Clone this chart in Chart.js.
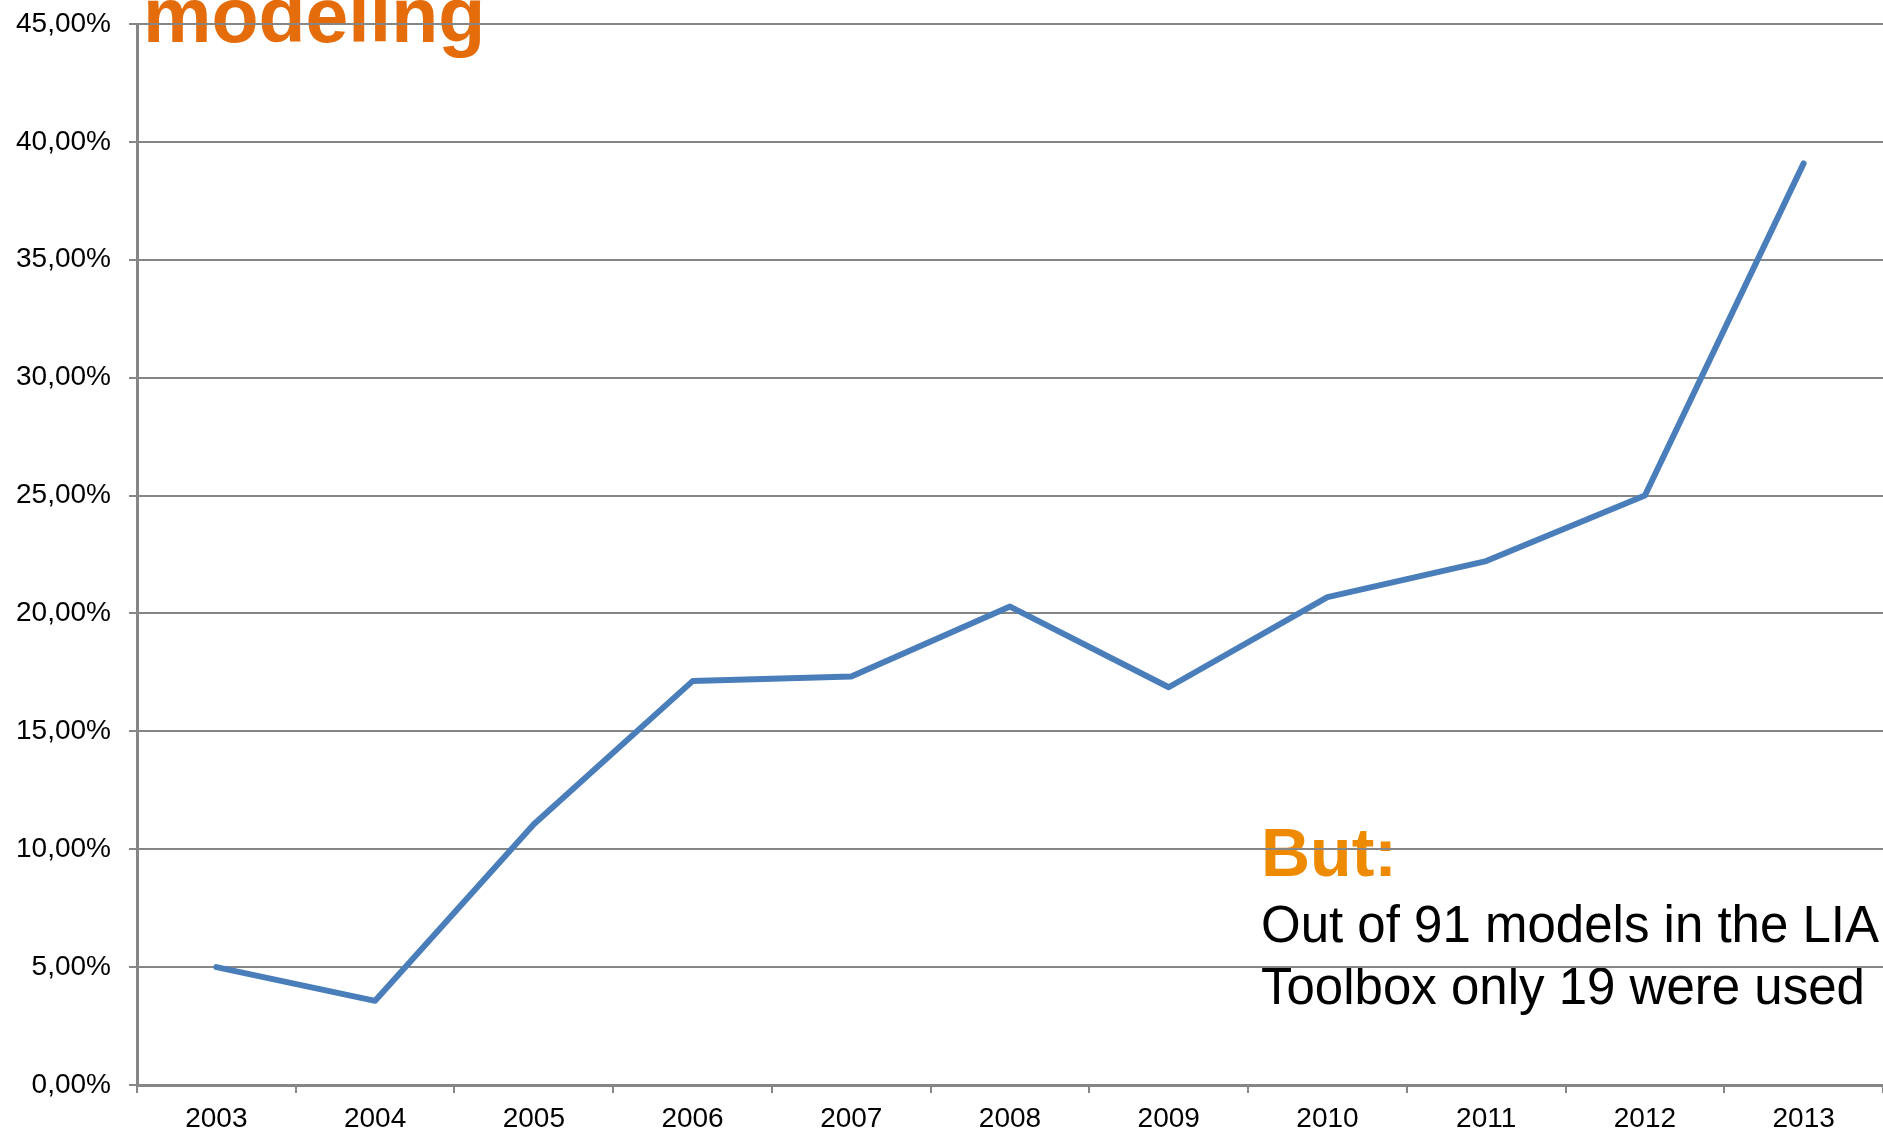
<!DOCTYPE html>
<html>
<head>
<meta charset="utf-8">
<script src="https://cdn.jsdelivr.net/npm/chart.js@4.4.1/dist/chart.umd.min.js"></script>
<style>
  html, body { margin: 0; padding: 0; background: #fff; }
  #wrap { width: 1883px; height: 1134px; position: relative; }
</style>
</head>
<body>
<div id="wrap"><canvas id="chart" width="1883" height="1134"></canvas></div>
<script>
// --- Dados ---
const years = ['2003', '2004', '2005', '2006', '2007', '2008', '2009', '2010', '2011', '2012', '2013'];
const shares = [5.0, 3.57, 11.06, 17.13, 17.33, 20.29, 16.87, 20.69, 22.22, 25.0, 39.09];
const yTicks = [0, 5, 10, 15, 20, 25, 30, 35, 40, 45];

const titleText = 'modeling';
const noteHead = 'But:';
const noteLines = ['Out of 91 models in the LIA', 'Toolbox only 19 were used'];

const FONT = '"Liberation Sans", Arial, sans-serif';
const GRID = '#868686';

// textos do slide desenhados por baixo das linhas de grade
const slideText = {
    id: 'slideText',
    beforeDraw(chart) {
        const ctx = chart.ctx;
        ctx.save();
        ctx.textBaseline = 'alphabetic';
        ctx.textAlign = 'left';

        ctx.fillStyle = '#E46C0A';
        ctx.font = 'bold 77px ' + FONT;
        ctx.fillText(titleText, 143, 42);

        ctx.fillStyle = '#EE8A00';
        ctx.font = 'bold 68px ' + FONT;
        ctx.fillText(noteHead, 1261, 876);

        ctx.fillStyle = '#000';
        ctx.font = '51px ' + FONT;
        noteLines.forEach((line, i) => ctx.fillText(line, 1261, 942 + i * 62));
        ctx.restore();
    }
};

new Chart(document.getElementById('chart'), {
    type: 'line',
    data: {
        labels: years,
        datasets: [{
            data: shares,
            borderColor: '#4A7EBB',
            borderWidth: 6,
            borderCapStyle: 'round',
            borderJoinStyle: 'round',
            pointRadius: 0,
            tension: 0,
            fill: false
        }]
    },
    options: {
        responsive: false,
        devicePixelRatio: 1,
        animation: false,
        layout: { padding: 0 },
        plugins: { legend: { display: false }, tooltip: { enabled: false } },
        scales: {
            x: {
                offset: true,
                grid: {
                    offset: true,
                    drawOnChartArea: false,
                    drawTicks: true,
                    tickLength: 8,
                    color: GRID,
                    lineWidth: 2
                },
                border: { display: true, color: GRID, width: 3 },
                ticks: {
                    color: '#000',
                    font: { family: FONT, size: 28 },
                    padding: 9,
                    maxRotation: 0,
                    autoSkip: false
                },
                afterFit(scale) {
                    scale.height = 49;
                    scale.paddingLeft = 0;
                    scale.paddingRight = 0;
                }
            },
            y: {
                min: 0,
                max: 45,
                afterBuildTicks(scale) {
                    scale.ticks = yTicks.map(v => ({ value: v }));
                },
                grid: {
                    color: GRID,
                    lineWidth: 2,
                    drawTicks: true,
                    tickLength: 8
                },
                border: { display: true, color: GRID, width: 3 },
                ticks: {
                    color: '#000',
                    font: { family: FONT, size: 28 },
                    padding: 18,
                    callback: v => v.toFixed(2).replace('.', ',') + '%'
                },
                afterFit(scale) {
                    // área do gráfico começa em 137px e o topo (45%) em 24px
                    scale.width = 137;
                    scale.paddingTop = 24;
                    scale.paddingBottom = 0;
                }
            }
        }
    },
    plugins: [slideText]
});
</script>
</body>
</html>
